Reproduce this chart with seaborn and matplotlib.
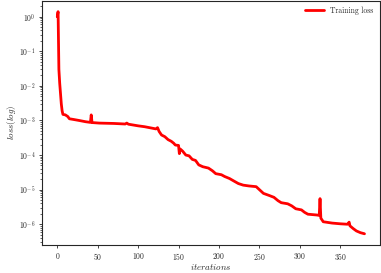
import numpy as np
import pandas as pd
import seaborn as sns
from matplotlib import pyplot as plt

# training loss (iteration, loss)
iterations = [0, 1, 2, 3, 4, 5, 6, 7, 10, 13, 15, 20, 27, 35, 41, 42, 43, 52, 70,
              84, 86, 88, 100, 108, 114, 122, 124, 126, 129, 133, 137, 141, 144, 146,
              150, 151, 152, 155, 159, 163, 167, 171, 175, 180, 187, 192, 196, 203,
              207, 213, 218, 224, 230, 237, 246, 250, 255, 262, 268, 273, 277, 285,
              290, 295, 302, 306, 310, 321, 324, 325, 326, 329, 340, 350, 359, 361,
              362, 366, 370, 375, 380]
loss = [1.0, 1.4, 3e-2, 1.2e-2, 6e-3, 3e-3, 1.9e-3, 1.5e-3, 1.45e-3, 1.3e-3, 1.12e-3,
        1.07e-3, 1.0e-3, 9.2e-4, 8.8e-4, 1.45e-3, 8.7e-4, 8.4e-4, 8.2e-4,
        7.9e-4, 8.4e-4, 7.8e-4, 7.0e-4, 6.6e-4, 6.2e-4, 5.7e-4, 6.2e-4, 4.8e-4,
        3.8e-4, 3.4e-4, 2.8e-4, 2.5e-4, 2.2e-4, 1.95e-4,
        1.9e-4, 1.1e-4, 1.5e-4, 1.3e-4, 1.0e-4, 9.5e-5, 7.5e-5, 7e-5, 5.2e-5,
        4.6e-5, 4.2e-5, 3.5e-5, 2.9e-5, 2.7e-5, 2.4e-5, 2.1e-5, 1.8e-5, 1.5e-5,
        1.35e-5, 1.28e-5, 1.22e-5, 1.0e-5, 7.8e-6, 6.8e-6, 6.0e-6, 4.8e-6, 4.2e-6,
        3.9e-6, 3.4e-6, 2.8e-6, 2.6e-6, 2.2e-6, 1.95e-6, 1.85e-6, 1.8e-6, 5.5e-6,
        1.5e-6, 1.18e-6, 1.08e-6, 1.03e-6, 1.0e-6, 1.15e-6, 9e-7, 7.5e-7, 6.4e-7,
        5.7e-7, 5.3e-7]

df = pd.DataFrame({'iter': iterations, 'loss': loss})

sns.set_style('ticks')
plt.rcParams['font.family'] = ['cmr10', 'DejaVu Serif']
plt.rcParams['mathtext.fontset'] = 'cm'
plt.rcParams['axes.unicode_minus'] = False
plt.rcParams['axes.formatter.use_mathtext'] = True

fig = plt.figure(figsize=(3.81, 2.73), dpi=100)
ax = fig.add_axes([0.110, 0.103, 0.887, 0.895])
sns.lineplot(data=df, x='iter', y='loss', color='red', linewidth=2.0,
             label='Training loss', ax=ax)
ax.set_yscale('log')
ax.set_xticks([0, 50, 100, 150, 200, 250, 300, 350])
ax.tick_params(labelsize=5.5, width=0.6, length=2.5, pad=2)
ax.tick_params(which='minor', width=0.5, length=1.5)
ax.set_xlabel('$iterations$', fontsize=6.5, labelpad=0)
ax.set_ylabel('$loss(log)$', fontsize=6.5, labelpad=1)
for s in ax.spines.values():
    s.set_linewidth(0.8)
ax.legend(loc='upper right', frameon=False, fontsize=5.5, handlelength=2.5,
          borderaxespad=0.4)
fig.savefig('out.png', dpi=100)
